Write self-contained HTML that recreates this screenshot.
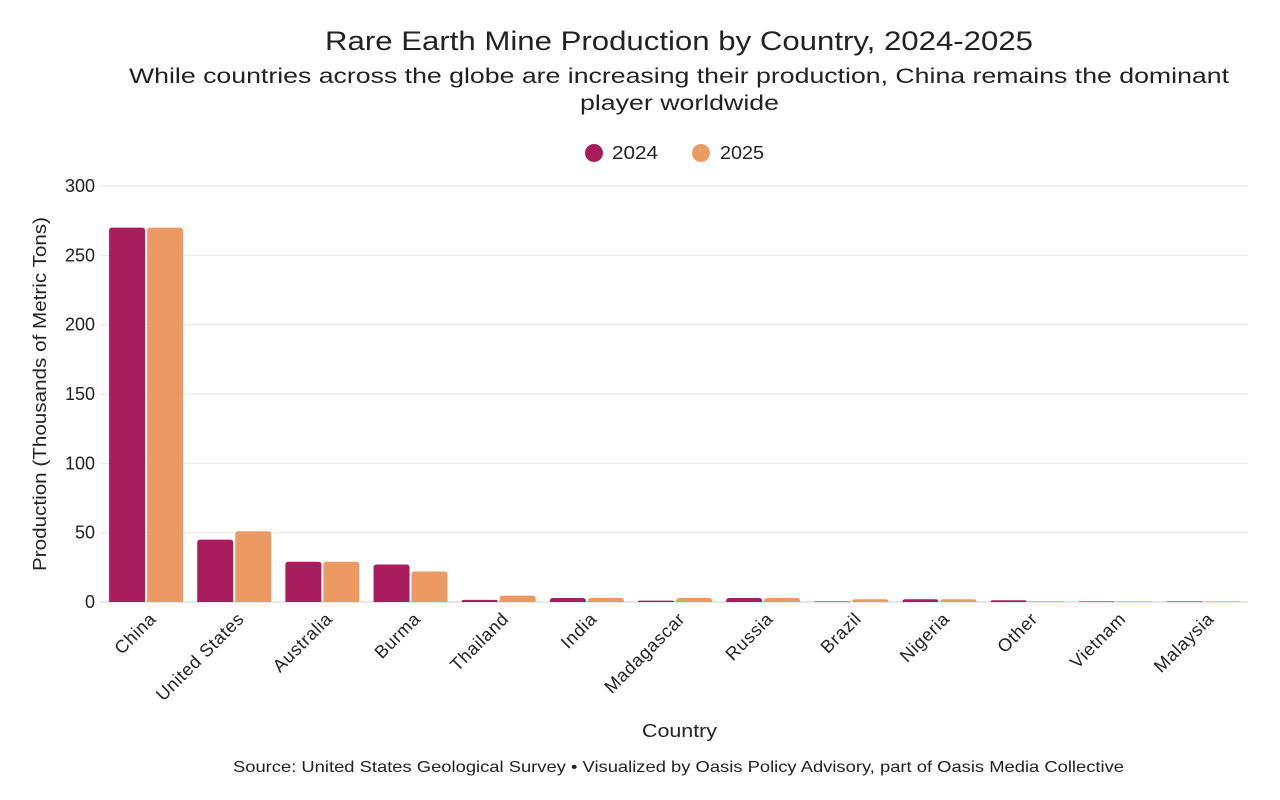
<!DOCTYPE html>
<html><head><meta charset="utf-8"><style>
body{margin:0;background:#fff;font-family:"Liberation Sans",sans-serif;}
svg{display:block}
text{font-family:"Liberation Sans",sans-serif;fill:#222}
</style></head><body>
<svg id="chart" width="1280" height="800" viewBox="0 0 1280 800">
<text x="325" y="50" font-size="27" textLength="708" lengthAdjust="spacingAndGlyphs">Rare Earth Mine Production by Country, 2024-2025</text>
<text x="129" y="83" font-size="21" textLength="1100" lengthAdjust="spacingAndGlyphs">While countries across the globe are increasing their production, China remains the dominant</text>
<text x="580" y="110" font-size="21" textLength="199" lengthAdjust="spacingAndGlyphs">player worldwide</text>
<g>
<circle cx="594" cy="153" r="9" fill="#a91d5e"/>
<text x="612" y="159" font-size="18" textLength="46" lengthAdjust="spacingAndGlyphs">2024</text>
<circle cx="701" cy="153" r="9" fill="#ec9a64"/>
<text x="720" y="159" font-size="18" textLength="44" lengthAdjust="spacingAndGlyphs">2025</text>
</g>
<g id="grid"></g><g id="bars"></g><g id="xlabels"></g>
<text transform="translate(46,394) rotate(-90)" text-anchor="middle" font-size="18" textLength="354" lengthAdjust="spacingAndGlyphs">Production (Thousands of Metric Tons)</text>
<text x="642" y="737" font-size="18" textLength="75" lengthAdjust="spacingAndGlyphs">Country</text>
<text x="233" y="772" font-size="16" textLength="891" lengthAdjust="spacingAndGlyphs">Source: United States Geological Survey • Visualized by Oasis Policy Advisory, part of Oasis Media Collective</text>
</svg>
<script>
const categories=["China","United States","Australia","Burma","Thailand","India","Madagascar","Russia","Brazil","Nigeria","Other","Vietnam","Malaysia"];
const values2024=[270,45,29,27,1.5,2.9,1,2.9,0.3,2,1.3,0.3,0.1];
const values2025=[270,51,29,22,4.6,2.9,2.9,2.9,2,2,0.5,0.3,0.1];
const yTicks=[0,50,100,150,200,250,300];
const NS="http://www.w3.org/2000/svg";
const x0=102,x1=1248,y0=602,y1=186;
const band=(x1-x0)/categories.length;
const y=v=>y0-(v/300)*(y0-y1);
function mk(t,a,p){const e=document.createElementNS(NS,t);for(const k in a)e.setAttribute(k,a[k]);p.appendChild(e);return e;}
const grid=document.getElementById('grid'),bars=document.getElementById('bars'),xl=document.getElementById('xlabels');
yTicks.forEach(t=>{
 const l=mk('line',{x1:100,x2:x1,y1:y(t),y2:y(t),stroke:t===0?'#ccc':'#e6e6e6','stroke-width':1},grid);
 
 
 const tx=mk('text',{x:95,y:y(t)+6,'text-anchor':'end','font-size':18},grid);
 tx.textContent=t;
 
 
});
function bar(xl_,v,c,name){
 const h=Math.max(y0-y(v),0.6),w=36,r=Math.min(3,h);
 const top=y0-h;
 const d=`M${xl_},${y0}V${top+r}Q${xl_},${top} ${xl_+r},${top}H${xl_+w-r}Q${xl_+w},${top} ${xl_+w},${top+r}V${y0}Z`;
 const p=mk('path',{d:d,fill:c},bars);
 
 
}
categories.forEach((c,i)=>{
 const cx=x0+band*(i+0.5);
 bar(cx-37,values2024[i],'#a91d5e','bar-'+c.toLowerCase().replace(/ /g,'-')+'-2024');
 bar(cx+1,values2025[i],'#ec9a64','bar-'+c.toLowerCase().replace(/ /g,'-')+'-2025');
 const t=mk('text',{transform:`translate(${cx+11},${620}) rotate(-45)`,'text-anchor':'end','font-size':18,'letter-spacing':'0.6'},xl);
 t.textContent=c;
 
 
});
</script>
</body></html>
